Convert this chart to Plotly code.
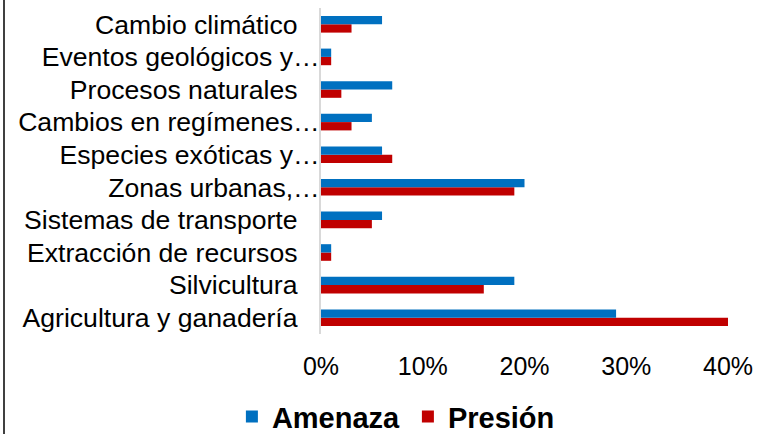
import plotly.graph_objects as go

categories = ["Agricultura y ganadería", "Silvicultura", "Extracción de recursos",
              "Sistemas de transporte", "Zonas urbanas,…", "Especies exóticas y…",
              "Cambios en regímenes…", "Procesos naturales", "Eventos geológicos y…",
              "Cambio climático"]
amenaza = [0.29, 0.19, 0.01, 0.06, 0.20, 0.06, 0.05, 0.07, 0.01, 0.06]
presion = [0.40, 0.16, 0.01, 0.05, 0.19, 0.07, 0.03, 0.02, 0.01, 0.03]
x_ticks = [0, 0.1, 0.2, 0.3, 0.4]

BLUE = "#0070C0"
RED = "#C00000"
FONT = "Liberation Sans, Arial, sans-serif"

# truncated labels run up to the axis; full labels keep a gap
ticktext = [c if c.endswith("…") else c + "\u00a0" * 3 for c in categories]

fig = go.Figure()
fig.add_trace(go.Bar(y=categories, x=presion, name="Presión", orientation="h",
                     marker=dict(color=RED, line=dict(width=0))))
fig.add_trace(go.Bar(y=categories, x=amenaza, name="Amenaza", orientation="h",
                     marker=dict(color=BLUE, line=dict(width=0))))

fig.update_layout(
    width=766, height=434,
    margin=dict(l=321, r=38, t=8, b=100),
    paper_bgcolor="white", plot_bgcolor="white",
    barmode="group", bargap=0.49, bargroupgap=0,
    font=dict(family=FONT, color="#000000"),
    showlegend=True,
    legend=dict(orientation="h", traceorder="reversed",
                xref="container", yref="container",
                x=0.5325, xanchor="center", y=0.04, yanchor="middle",
                font=dict(size=29, family=FONT, weight="bold"),
                itemwidth=30, entrywidth=131, entrywidthmode="pixels"),
    xaxis=dict(range=[0, 0.4], tickvals=x_ticks, tickformat=".0%",
               showgrid=False, zeroline=False, showline=False, ticks="",
               tickfont=dict(size=25), ticklabelstandoff=15, fixedrange=True),
    yaxis=dict(type="category", categoryorder="array", categoryarray=categories,
               tickvals=categories, ticktext=ticktext,
               showgrid=False, zeroline=False, showline=True,
               linecolor="#D9D9D9", linewidth=2, ticks="",
               tickfont=dict(size=26.6), ticklabelstandoff=-6, fixedrange=True),
    shapes=[dict(type="line", xref="paper", yref="paper",
                 x0=(4 - 321) / 407, x1=(4 - 321) / 407,
                 y0=-100 / 326, y1=1 + 8 / 326,
                 line=dict(color="black", width=1.5))],
)

fig.write_html("out.html", config={"displayModeBar": False},
               post_script="document.body.style.margin='0';document.body.style.overflow='hidden';")
